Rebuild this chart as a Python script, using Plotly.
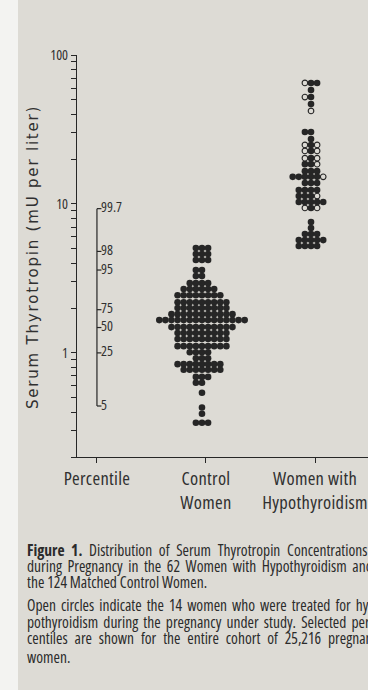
import numpy as np
import plotly.graph_objects as go

# ---- data -----------------------------------------------------------------
categories = [["Percentile"], ["Control", "Women"], ["Women with", "Hypothyroidism"]]

# Control women: serum TSH (mU per liter) of each dot-plot row and number of women in it
control_tsh = [5.06, 4.61, 4.20,
               3.60, 3.28, 2.94, 2.68, 2.44, 2.19, 2.00, 1.82, 1.66, 1.49,
               1.36, 1.24, 1.11, 1.01, 0.92, 0.84, 0.77, 0.69, 0.63,
               0.54, 0.43, 0.39, 0.34]
control_count = [3, 3, 3,
                 2, 2, 4, 6, 8, 9, 9, 11, 15, 11,
                 9, 9, 9, 4, 3, 8, 7, 3, 2,
                 1, 1, 1, 3]

# Women with hypothyroidism: TSH of each row; F = untreated, O = treated during pregnancy
hypo_tsh = [108, 64.9, 58.2, 52.2, 46.9, 42.1,
            30.4, 27.3, 24.9, 22.7, 20.3, 18.5, 16.6, 15.2, 13.8, 12.4, 11.3, 10.3, 9.4,
            7.56, 6.89, 6.28, 5.72, 5.22]
hypo_rows = ["F", "OFF", "F", "OF", "F", "O",
             "FF", "F", "OFO", "OFO", "OFO", "FFO", "FFF", "FFFFFO", "FFF", "FFFF", "FFFO",
             "FFFFF", "OFO",
             "F", "F", "FFF", "FFFFF", "FFFF"]

# Selected percentiles of TSH for the whole screened cohort
pct_labels = ["99.7", "98", "95", "75", "50", "25", "5"]
pct_tsh = [9.3, 4.8, 3.6, 1.95, 1.48, 1.0, 0.44]

y_tickvals = [0.2, 0.3, 0.4, 0.5, 0.6, 0.7, 0.8, 0.9, 1,
              2, 3, 4, 5, 6, 7, 8, 9, 10,
              20, 30, 40, 50, 60, 70, 80, 90, 100]
y_labelled = [1, 10, 100]

caption = [
    "<b>Figure 1.</b> Distribution of Serum Thyrotropin Concentrations",
    "during Pregnancy in the 62 Women with Hypothyroidism and",
    "the 124 Matched Control Women.",
    "Open circles indicate the 14 women who were treated for hy-",
    "pothyroidism during the pregnancy under study. Selected per-",
    "centiles are shown for the entire cohort of 25,216 pregnant",
    "women.",
]

# ---- style ----------------------------------------------------------------
BG = "#dddbd5"
INK = "#262626"
TEXT = "#303030"
SANS = "'Open Sans', sans-serif"
WIDE = "'DejaVu Sans', Verdana, sans-serif"


def cond(s, extra=""):
    """Set a line of text in the condensed cut of the face."""
    return f'<span style="font-stretch:75%;{extra}">{s}</span>'


W, H = 368, 690
L, R, T, B = 77, 0, 55, 233
X_RANGE = [-0.183, 2.486]
PX_PER_X = (W - L - R) / (X_RANGE[1] - X_RANGE[0])
DX = 6.1 / PX_PER_X          # horizontal pitch of the dots
SHIFT = -4.0 / PX_PER_X      # dot columns sit a little left of the tick


def columns(n):
    """Column indices for a row of n dots, centred on the group."""
    start = -(n // 2)
    return [start + i for i in range(n)]


# control dots
cx, cy = [], []
for v, n in zip(control_tsh, control_count):
    for c in columns(n):
        cx.append(1 + SHIFT + c * DX)
        cy.append(v)

# hypothyroid dots
fx, fy, ox, oy = [], [], [], []
for v, pattern in zip(hypo_tsh, hypo_rows):
    for c, kind in zip(columns(len(pattern)), pattern):
        x = 2 + SHIFT + c * DX
        if kind == "O":
            ox.append(x); oy.append(v)
        else:
            fx.append(x); fy.append(v)

fig = go.Figure()

dot = dict(size=6.6, color=INK, line=dict(width=0))
fig.add_trace(go.Scatter(x=cx, y=cy, mode="markers", cliponaxis=False, marker=dot,
                         hoverinfo="skip", showlegend=False))
fig.add_trace(go.Scatter(x=fx, y=fy, mode="markers", cliponaxis=False, marker=dot,
                         hoverinfo="skip", showlegend=False))
fig.add_trace(go.Scatter(x=ox, y=oy, mode="markers", cliponaxis=False,
                         marker=dict(size=5.6, color=BG, line=dict(width=1.1, color=INK)),
                         hoverinfo="skip", showlegend=False))

# percentile scale: a vertical bar with short ticks and labels
TICK = 4.5 / PX_PER_X
fig.add_trace(go.Scatter(x=[0, 0], y=[max(pct_tsh), min(pct_tsh)], mode="lines",
                         line=dict(color=INK, width=1.2), hoverinfo="skip", showlegend=False))
seg_x, seg_y = [], []
for v in pct_tsh:
    seg_x += [0, TICK, None]
    seg_y += [v, v, None]
fig.add_trace(go.Scatter(x=seg_x, y=seg_y, mode="lines", line=dict(color=INK, width=1.2),
                         hoverinfo="skip", showlegend=False))
fig.add_trace(go.Scatter(x=[TICK * 0.9] * len(pct_tsh), y=pct_tsh, mode="text",
                         text=[cond(s) for s in pct_labels], textposition="middle right",
                         textfont=dict(family=SANS, size=14, color=TEXT),
                         hoverinfo="skip", showlegend=False))

axis_common = dict(showline=True, linecolor=INK, linewidth=1.3, showgrid=False,
                   zeroline=False, ticks="outside", ticklen=5, tickwidth=1.1,
                   tickcolor=INK)

fig.update_layout(
    width=W, height=H,
    margin=dict(l=L, r=R, t=T, b=B),
    paper_bgcolor=BG, plot_bgcolor=BG,
    xaxis=dict(range=X_RANGE, tickvals=[0, 1, 2],
               ticktext=["<br>".join(cond(s, "letter-spacing:0.3px") for s in c)
                         for c in categories],
               ticklabeloverflow="allow",
               tickfont=dict(family=SANS, size=18.5, color=TEXT), **axis_common),
    yaxis=dict(type="log", range=[np.log10(0.2), 2], tickvals=y_tickvals,
               ticktext=[cond(str(v)) if v in y_labelled else "" for v in y_tickvals],
               tickfont=dict(family=SANS, size=14, color=TEXT), **axis_common),
)


def px(x):
    return (x - L) / (W - L - R)


def py(y):
    return (H - B - y) / (H - T - B)


# white page edge on the far left
fig.add_shape(type="rect", xref="paper", yref="paper", x0=px(-5), x1=px(18),
              y0=py(H + 5), y1=py(-5), fillcolor="#f3f3f1", line=dict(width=0),
              layer="below")

fig.add_annotation(xref="paper", yref="paper", x=px(33), y=py(257), textangle=-90,
                   text='<span style="letter-spacing:1.8px">Serum Thyrotropin (mU per liter)</span>',
                   showarrow=False, font=dict(family=WIDE, size=15, color=TEXT),
                   xanchor="center", yanchor="middle")

# caption set justified: full lines get extra word spacing
caption_y = [550, 566, 582, 605, 622, 638, 657]
caption_ws = [3.8, 2.7, 0, 2.1, 2.3, 4, 0]
for y, line, ws in zip(caption_y, caption, caption_ws):
    fig.add_annotation(xref="paper", yref="paper", x=px(25), y=py(y),
                       text=cond(line, f"word-spacing:{ws}px"),
                       showarrow=False, xanchor="left", yanchor="middle",
                       font=dict(family=SANS, size=15.5, color="#2b2b2b"))

fig.write_html("out.html")
